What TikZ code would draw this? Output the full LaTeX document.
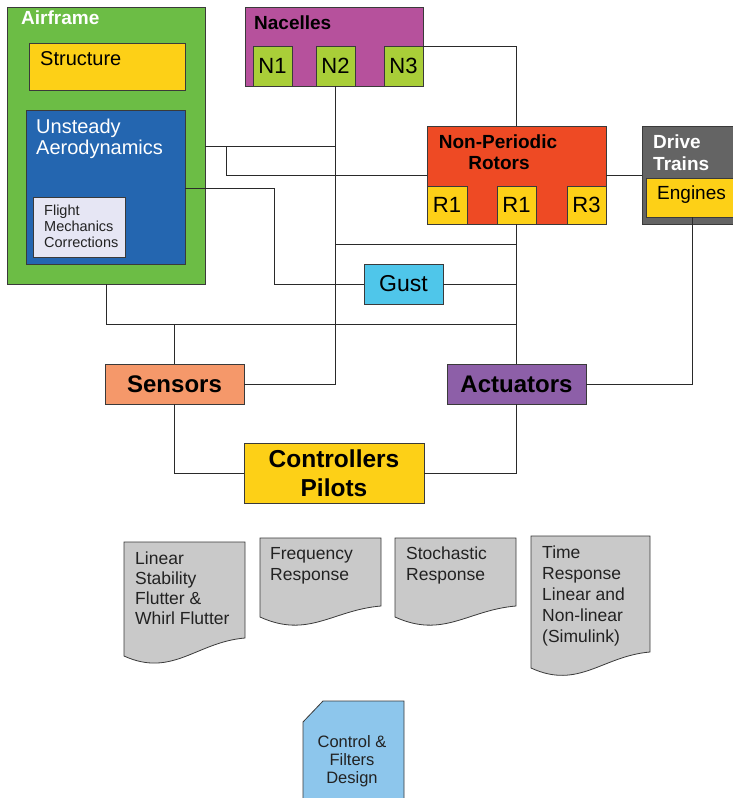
\documentclass[tikz,border=0pt]{standalone}
\usepackage{fontspec}
\setmainfont{Liberation Sans}
\newcommand\fsz[2]{\fontsize{#1}{#2}\selectfont}
\definecolor{cGreen}{HTML}{6CBD45}
\definecolor{cYellow}{HTML}{FDD017}
\definecolor{cBlue}{HTML}{2466B0}
\definecolor{cLav}{HTML}{E6E6F4}
\definecolor{cMag}{HTML}{B6519C}
\definecolor{cLime}{HTML}{A9CE38}
\definecolor{cRed}{HTML}{EE4A24}
\definecolor{cDark}{HTML}{646464}
\definecolor{cGust}{HTML}{4FC6EA}
\definecolor{cSens}{HTML}{F5986A}
\definecolor{cAct}{HTML}{8D5FA8}
\definecolor{cDoc}{HTML}{C9C9C9}
\definecolor{cCtrl}{HTML}{8DC6EC}
\definecolor{cLine}{HTML}{2A2A2A}
\definecolor{cEdge}{HTML}{3A3A3A}
\definecolor{cDocTxt}{HTML}{222222}
\tikzset{
  box/.style={draw=cEdge, line width=0.9pt, inner sep=0pt, outer sep=0pt, anchor=north west},
  wire/.style={draw=cLine, line width=0.9pt},
  lbl/.style={inner sep=0pt, anchor=base west},
  clbl/.style={inner sep=0pt, anchor=base},
  doctxt/.style={lbl, text=cDocTxt, font=\fsz{17.5}{20}},
  docshape/.style={fill=cDoc, draw=cEdge, line width=0.8pt},
}
\newcommand\mydoc[5]{%
  \filldraw[docshape] (#1,#2) -- (#3,#2) -- (#3,#5)
    .. controls ({#1+0.6*(#3-#1)},{#5+4}) and ({#1+0.4*(#3-#1)},{#4+22}) .. (#1,#4) -- cycle;}
\begin{document}
\begin{tikzpicture}[x=1pt,y=-1pt]
\useasboundingbox (0,0) rectangle (733,798);

% ---------- Airframe ----------
\node[box, fill=cGreen, minimum width=198, minimum height=277] (airframe) at (7,7) {};
\node[lbl, text=white, font=\fsz{19}{22}\bfseries] (airframeT) at (21,24) {Airframe};
\node[box, fill=cYellow, minimum width=156, minimum height=47] (structure) at (29,43) {};
\node[lbl, font=\fsz{20}{24}] (structureT) at (40,65) {Structure};
\node[box, fill=cBlue, minimum width=159, minimum height=154] (ua) at (26,110) {};
\node[lbl, text=white, font=\fsz{20}{24}] (uaT1) at (36,133) {Unsteady};
\node[lbl, text=white, font=\fsz{20}{24}] (uaT2) at (36,154) {Aerodynamics};
\node[box, fill=cLav, minimum width=92, minimum height=60] (fmc) at (33,197) {};
\node[lbl, text=cDocTxt, font=\fsz{14.5}{16}] (fmcT1) at (44,215) {Flight};
\node[lbl, text=cDocTxt, font=\fsz{14.5}{16}] (fmcT2) at (44,231) {Mechanics};
\node[lbl, text=cDocTxt, font=\fsz{14.5}{16}] (fmcT3) at (44,247) {Corrections};

% ---------- Nacelles ----------
\node[box, fill=cMag, minimum width=178, minimum height=79] (nacelles) at (245,7) {};
\node[lbl, font=\fsz{19}{22}\bfseries] (nacellesT) at (254,29) {Nacelles};
\node[box, fill=cLime, minimum width=39, minimum height=40, font=\fsz{22}{26}] (n1) at (253,46) {N1};
\node[box, fill=cLime, minimum width=39, minimum height=40, font=\fsz{22}{26}] (n2) at (316,46) {N2};
\node[box, fill=cLime, minimum width=39, minimum height=40, font=\fsz{22}{26}] (n3) at (384,46) {N3};

% ---------- Rotors ----------
\node[box, fill=cRed, minimum width=179, minimum height=98] (rotors) at (427,126) {};
\node[clbl, font=\fsz{19}{22}\bfseries] (rotorsT1) at (498,148) {Non-Periodic};
\node[clbl, font=\fsz{19}{22}\bfseries] (rotorsT2) at (499,169) {Rotors};
\node[box, fill=cYellow, minimum width=40, minimum height=38, font=\fsz{22}{26}] (r1a) at (427,186) {R1};
\node[box, fill=cYellow, minimum width=39, minimum height=38, font=\fsz{22}{26}] (r1b) at (497,186) {R1};
\node[box, fill=cYellow, minimum width=39, minimum height=38, font=\fsz{22}{26}] (r3) at (567,186) {R3};

% ---------- Drive trains ----------
\node[box, fill=cDark, minimum width=100, minimum height=98] (drive) at (642,126) {};
\node[lbl, text=white, font=\fsz{19}{22}\bfseries] (driveT1) at (653,148) {Drive};
\node[lbl, text=white, font=\fsz{19}{22}\bfseries] (driveT2) at (653,170) {Trains};
\node[box, fill=cYellow, minimum width=92, minimum height=39] (engines) at (646,178) {};
\node[lbl, font=\fsz{19}{22}] (enginesT) at (657,199) {Engines};

% ---------- Gust, sensors, actuators, controllers ----------
\node[box, fill=cGust, minimum width=79, minimum height=40, font=\fsz{23}{27}] (gust) at (364,264) {Gust};
\node[box, fill=cSens, minimum width=139, minimum height=40, font=\fsz{24}{28}\bfseries] (sensors) at (105,364) {Sensors};
\node[box, fill=cAct, minimum width=139, minimum height=40, font=\fsz{24}{28}\bfseries] (actuators) at (447,364) {Actuators};
\node[box, fill=cYellow, minimum width=180, minimum height=60, align=center, font=\fsz{24.5}{29}\bfseries] (controllers) at (244,443) {Controllers\\Pilots};

% ---------- connectors ----------
\coordinate (jA) at (226,146);
\coordinate (jB) at (274,188);
\coordinate (jC) at (0,244);
\coordinate (jD) at (0,324);
\draw[wire] (airframe.east |- jA) -- (n2.south |- jA);
\draw[wire] (jA) |- (rotors.west);
\draw[wire] (rotors.east) -- (drive.west);
\draw[wire] (ua.east |- jB) -- (jB) |- (gust.west);
\draw[wire] (gust.east) -- (gust.east -| r1b.south);
\draw[wire] (r1b.south) -- (r1b.south |- actuators.north);
\draw[wire] (n3.north east) -| (rotors.north);
\draw[wire] (n2.south |- jC) -- (r1b.south |- jC);
\draw[wire] (airframe.south) |- (r1b.south |- jD);
\draw[wire] (sensors.north) -- (sensors.north |- jD);
\draw[wire] (n2.south) |- (sensors.east);
\draw[wire] (sensors.south) |- (controllers.west);
\draw[wire] (actuators.south) |- (controllers.east);
\draw[wire] (engines.south) |- (actuators.east);

% ---------- documents ----------
\mydoc{124}{542}{245}{656}{638}
\node[doctxt] (d1a) at (135,564) {Linear};
\node[doctxt] (d1b) at (135,584) {Stability};
\node[doctxt] (d1c) at (135,604) {Flutter \&};
\node[doctxt] (d1d) at (135,624) {Whirl Flutter};

\mydoc{260}{538}{381}{617}{606}
\node[doctxt] (d2a) at (270,559) {Frequency};
\node[doctxt] (d2b) at (270,580) {Response};

\mydoc{395}{538}{516}{617}{606}
\node[doctxt] (d3a) at (406,559) {Stochastic};
\node[doctxt] (d3b) at (406,580) {Response};

\mydoc{531}{536}{650}{668}{652}
\node[doctxt] (d4a) at (542,558) {Time};
\node[doctxt] (d4b) at (542,579) {Response};
\node[doctxt] (d4c) at (542,600) {Linear and};
\node[doctxt] (d4d) at (542,621) {Non-linear};
\node[doctxt] (d4e) at (542,642) {(Simulink)};

% ---------- control & filters design ----------
\filldraw[fill=cCtrl, draw=cEdge, line width=0.8pt] (303,722) -- (323,701) -- (404,701) -- (404,806) -- (303,806) -- cycle;
\node[clbl, text=cDocTxt, font=\fsz{16.5}{18}] (cf1) at (352,747) {Control \&};
\node[clbl, text=cDocTxt, font=\fsz{16.5}{18}] (cf2) at (352,765) {Filters};
\node[clbl, text=cDocTxt, font=\fsz{16.5}{18}] (cf3) at (352,783) {Design};
\end{tikzpicture}
\end{document}
